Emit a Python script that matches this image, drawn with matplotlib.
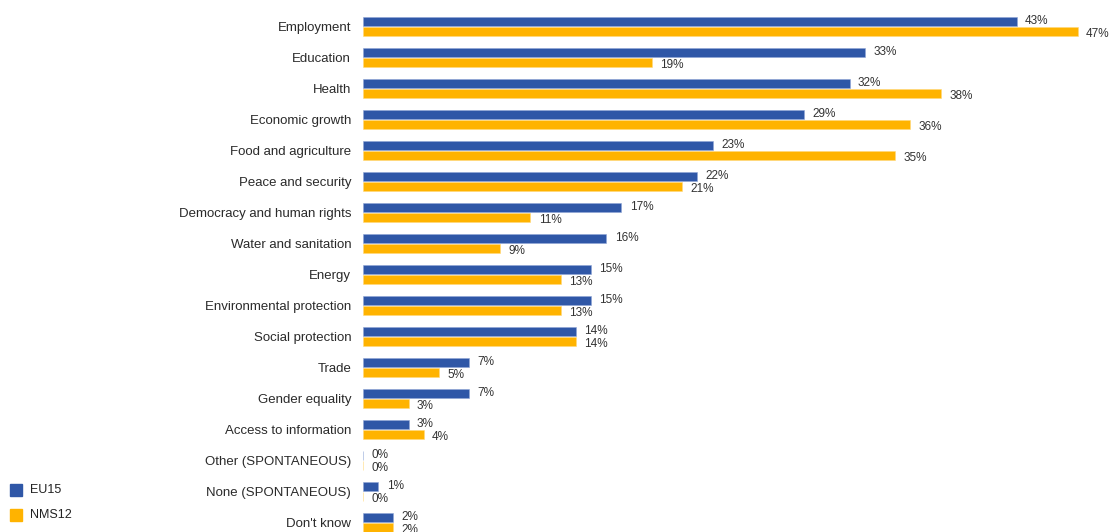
import matplotlib.pyplot as plt
from matplotlib.patches import Rectangle

plt.rcParams['font.family'] = ['Liberation Sans', 'DejaVu Sans']

categories = ['Employment', 'Education', 'Health', 'Economic growth',
              'Food and agriculture', 'Peace and security',
              'Democracy and human rights', 'Water and sanitation', 'Energy',
              'Environmental protection', 'Social protection', 'Trade',
              'Gender equality', 'Access to information',
              'Other (SPONTANEOUS)', 'None (SPONTANEOUS)', "Don't know"]
eu15 = [43, 33, 32, 29, 23, 22, 17, 16, 15, 15, 14, 7, 7, 3, 0, 1, 2]
nms12 = [47, 19, 38, 36, 35, 21, 11, 9, 13, 13, 14, 5, 3, 4, 0, 0, 2]

blue = '#2F57A7'
orange = '#FFB300'

W, H = 1111, 532
fig = plt.figure(figsize=(W / 100, H / 100), dpi=100)
ax = fig.add_axes([363 / W, 0, 748 / W, 1])

pos = list(range(len(categories)))
off = 0.17
hgt = 0.3
ax.barh([p - off for p in pos], eu15, height=hgt, color=blue, edgecolor='#8fa6d6', linewidth=0.4)
ax.barh([p + off for p in pos], nms12, height=hgt, color=orange, edgecolor='#ffd97a', linewidth=0.4)

for p, a, b in zip(pos, eu15, nms12):
    ax.text(a + 0.55, p - off - 0.02, f'{a}%', va='center', ha='left', fontsize=8.5, color='#333333')
    ax.text(b + 0.55, p + off + 0.06, f'{b}%', va='center', ha='left', fontsize=8.5, color='#333333')

ax.set_xlim(0, 49.2)
ax.set_ylim((H - 26.5) / 31, -26.5 / 31)
ax.set_yticks(pos)
ax.set_yticklabels(categories, fontsize=9.5, color='#2a2a2a')
ax.tick_params(axis='y', length=0, pad=8.5)
ax.set_xticks([])
for s in ax.spines.values():
    s.set_visible(False)

# legend
fig.patches.append(Rectangle((10 / W, 1 - 496 / H), 12 / W, 12 / H, transform=fig.transFigure, color=blue))
fig.patches.append(Rectangle((10 / W, 1 - 521 / H), 12 / W, 12 / H, transform=fig.transFigure, color=orange))
fig.text(30 / W, 1 - 490 / H, 'EU15', va='center', fontsize=9, color='#222222')
fig.text(30 / W, 1 - 515 / H, 'NMS12', va='center', fontsize=9, color='#222222')

fig.savefig('out.png', dpi=100)
